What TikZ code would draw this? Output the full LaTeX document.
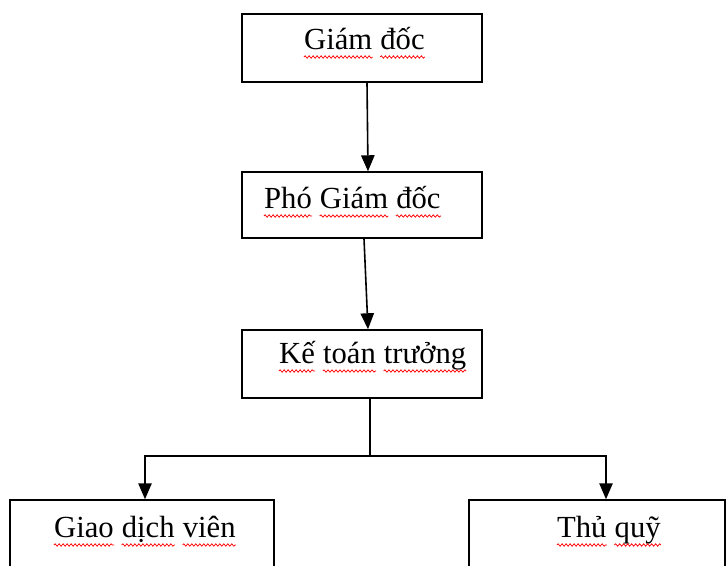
\documentclass[tikz,border=0pt]{standalone}
\usepackage{fontspec}
\setmainfont{Liberation Serif}
\usetikzlibrary{arrows.meta,decorations.pathmorphing}
\newcommand\OrgBox[5]{%
    \node[box, minimum width=#4*0.75pt, minimum height=#5*0.75pt] (#1) at (#2,#3) {};
}
% one node per word, each with the red wavy mark under it
\newcommand\SpellText[3]{%
    \node[inner sep=0pt, anchor=base west] (#1-0) at #2 {};
    \foreach \w [count=\i, evaluate=\i as \j using int(\i-1), evaluate=\i as \gap using (\i>1)*5.7] in {#3} {
        \node[lbl] (#1-\i) at ([xshift=\gap pt]#1-\j.base east) {\w};
        \draw[wave] ([yshift=-6pt]#1-\i.base west) -- ([yshift=-6pt]#1-\i.base east);
    }
}
\tikzset{
    box/.style={draw, line width=1.1pt, inner sep=0pt},
    lbl/.style={inner sep=0pt, anchor=base west, font=\fontsize{23}{28}\selectfont},
    wave/.style={red, line width=0.55pt, decorate, decoration={snake, segment length=3pt, amplitude=0.9pt}},
    arr/.style={line width=1.2pt, -{Triangle[length=12pt,width=10pt]}},
}

\begin{document}
\begin{tikzpicture}[x=0.75pt,y=-0.75pt]
    \useasboundingbox (0,0) rectangle (728,565);
    \clip (0,0) rectangle (728,565);
    \fill[white] (0,0) rectangle (728,565);
    \OrgBox{gd}{362}{48}{240}{68}
    \OrgBox{pgd}{362}{205}{240}{66}
    \OrgBox{ktt}{362}{364}{240}{68}
    \OrgBox{gdv}{142}{550}{264}{100}
    \OrgBox{tq}{597}{550}{256}{100}
    \SpellText{gdtxt}{(302,49)}{Giám,đốc}
    \SpellText{pgdtxt}{(262,208)}{Phó,Giám,đốc}
    \SpellText{ktttxt}{(277,363)}{Kế,toán,trưởng}
    \SpellText{gdvtxt}{(52,537)}{Giao,dịch,viên}
    \SpellText{tqtxt}{(555,537)}{Thủ,quỹ}
    % links
    \coordinate (branch) at (370,456);
    \draw[arr] ([xshift=3.75pt]gd.south) -- ([xshift=4.5pt]pgd.north);
    \draw[arr] ([xshift=1.5pt]pgd.south) -- ([xshift=4.5pt]ktt.north);
    \draw[line width=1.2pt] ([xshift=6pt]ktt.south) -- (branch);
    \draw[arr] (branch) -| ([xshift=2.25pt]gdv.north);
    \draw[arr] (branch) -| ([xshift=6.75pt]tq.north);
\end{tikzpicture}
\end{document}
